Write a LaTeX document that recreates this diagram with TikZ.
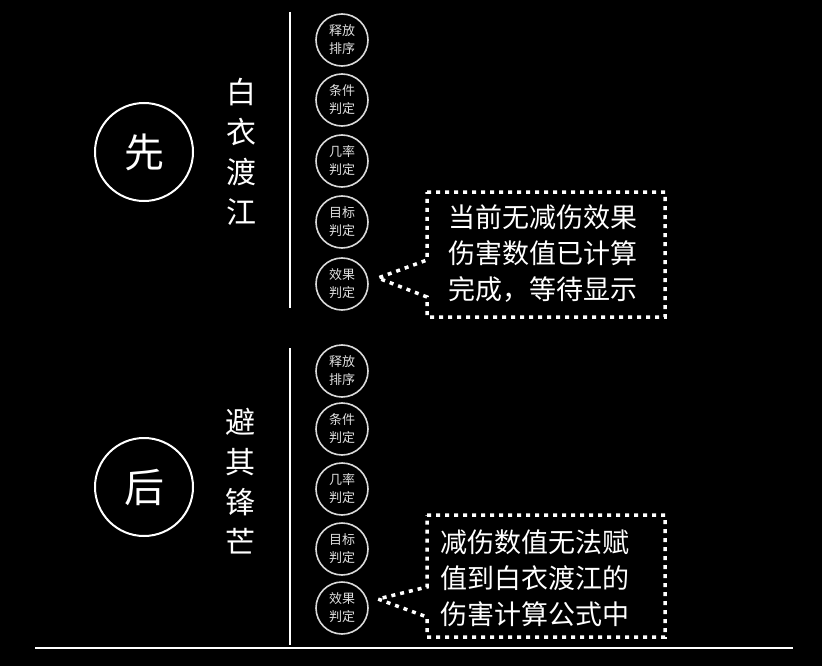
\documentclass[tikz,border=0pt]{standalone}
\usepackage{fontspec}
\setmainfont{Noto Sans CJK SC}
\begin{document}
\begin{tikzpicture}[x=1pt,y=-1pt,
	bigcircle/.style={circle,draw=white,line width=2pt,minimum size=98pt,inner sep=0pt,
		text=white,font=\fontsize{40}{40}\selectfont},
	vtitle/.style={text=white,align=center,font=\fontsize{30}{40}\selectfont},
	stage/.style={circle,draw=white!85!black,line width=1.6pt,minimum size=52pt,inner sep=0pt,
		text=white!88!black,align=center,font=\fontsize{13}{18}\selectfont},
	rule/.style={draw=white,line width=2pt},
	dotline/.style={draw=white,line width=3.5pt,dash pattern=on 4pt off 5pt},
	notetext/.style={text=white,align=left,font=\fontsize{27}{36}\selectfont}]
	\fill[black] (0,0) rectangle (822,666);
	\useasboundingbox (0,0) rectangle (822,666);
	\node[bigcircle] (first) at (144,152) {先};
	\node[bigcircle] (second) at (144,487) {后};
	\node[vtitle] (nameA) at (241,152) {白\\衣\\渡\\江};
	\node[vtitle] (nameB) at (240,481) {避\\其\\锋\\芒};
	\coordinate (topA) at (290,12);
	\coordinate (botA) at (290,308);
	\coordinate (topB) at (290,348);
	\coordinate (botB) at (290,645);
	\coordinate (baseL) at (35,648);
	\coordinate (baseR) at (793,648);
	\draw[rule] (topA) -- (botA);
	\draw[rule] (topB) -- (botB);
	\draw[rule] (baseL) -- (baseR);
	\node[stage] (releaseA) at (342,40) {释放\\排序};
	\node[stage] (condA) at (342,100) {条件\\判定};
	\node[stage] (chanceA) at (342,161) {几率\\判定};
	\node[stage] (targetA) at (342,222) {目标\\判定};
	\node[stage] (effectA) at (342,284) {效果\\判定};
	\node[stage] (releaseB) at (342,371) {释放\\排序};
	\node[stage] (condB) at (342,429) {条件\\判定};
	\node[stage] (chanceB) at (342,489) {几率\\判定};
	\node[stage] (targetB) at (342,549) {目标\\判定};
	\node[stage] (effectB) at (342,608) {效果\\判定};
	\node[notetext] (noteA) at (543,254) {当前无减伤效果\\伤害数值已计算\\完成，等待显示};
	\node[notetext] (noteB) at (535,578) {减伤数值无法赋\\值到白衣渡江的\\伤害计算公式中};
	\coordinate (tipA) at (378,278);
	\coordinate (tipB) at (378,599);
	\draw[dotline] (427,192) -- (665,192) -- (665,317) -- (427,317) -- (427,297)
		-- (tipA) -- (427,260) -- cycle;
	\draw[dotline] (427,515) -- (665,515) -- (665,637) -- (427,637) -- (427,617)
		-- (tipB) -- (427,587) -- cycle;
\end{tikzpicture}
\end{document}
